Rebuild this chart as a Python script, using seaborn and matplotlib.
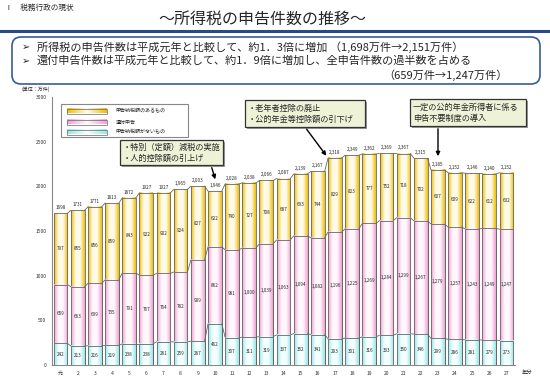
import numpy as np
import pandas as pd
import matplotlib
matplotlib.use('Agg')
import matplotlib.pyplot as plt
import seaborn as sns
from matplotlib.colors import LinearSegmentedColormap
from matplotlib.patches import FancyBboxPatch, Rectangle

# data (unit: 10,000 returns)
years = ['元', '2', '3', '4', '5', '6', '7', '8', '9', '10', '11', '12', '13', '14',
         '15', '16', '17', '18', '19', '20', '21', '22', '23', '24', '25', '26', '27']
no_tax = [242, 213, 216, 219, 238, 238, 261, 259, 267, 462, 307, 311, 319, 337,
          352, 341, 293, 301, 316, 333, 350, 346, 299, 286, 281, 279, 273]
refund = [659, 663, 699, 735, 791, 767, 764, 782, 909, 862, 981, 1000, 1039, 1063,
          1094, 1082, 1196, 1225, 1269, 1284, 1299, 1267, 1279, 1257, 1243, 1249, 1247]
tax_due = [797, 855, 856, 859, 843, 922, 902, 924, 827, 622, 740, 727, 708, 687,
           693, 744, 829, 823, 777, 752, 718, 702, 607, 609, 622, 612, 632]
legend_labels = ['申告納税額のあるもの', '還付申告', '申告納税額がないもの']

sns.set_style('white')
plt.rcParams['font.family'] = ['Noto Sans CJK JP', 'DejaVu Sans']

df = pd.DataFrame({'year': years, 'no_tax': no_tax, 'refund': refund, 'tax_due': tax_due})
df['lvl1'] = df['no_tax']
df['lvl2'] = df['no_tax'] + df['refund']
df['lvl3'] = df['lvl2'] + df['tax_due']

fig = plt.figure(figsize=(5.5, 3.77), dpi=100)
ax = fig.add_axes([52 / 550, 12 / 377, 463 / 550, 268 / 377])

layers = [('lvl3', '#efbe00', '#fffbea'),
          ('lvl2', '#f2a0d4', '#fff8fc'),
          ('lvl1', '#96e6ea', '#f6ffff')]
grad = np.linspace(0, 1, 64).reshape(1, -1)
for k, (col, edge, mid) in enumerate(layers):
    n0 = len(ax.patches)
    sns.barplot(data=df, x='year', y=col, ax=ax, color=edge, width=0.8,
                edgecolor='#666666', linewidth=0.6, saturation=1)
    cmap = LinearSegmentedColormap.from_list('g' + col, [edge, mid, mid, edge])
    for p in ax.patches[n0:]:
        x0, y0, w, h = p.get_x(), p.get_y(), p.get_width(), p.get_height()
        p.set_facecolor('none')
        p.set_zorder(2.5 + k)
        ax.imshow(grad, extent=[x0, x0 + w, y0, y0 + h], cmap=cmap, aspect='auto',
                  interpolation='bicubic', zorder=2 + k)

# connector lines between bars
for lvl in ['lvl1', 'lvl2', 'lvl3']:
    v = df[lvl].values
    for i in range(len(v) - 1):
        ax.plot([i + 0.4, i + 0.6], [v[i], v[i + 1]], color='#666666', lw=0.6, zorder=6)

# value labels
for i in range(len(years)):
    ax.text(i, df['lvl1'][i] / 2, f'{no_tax[i]:,}', ha='center', va='center', fontsize=3.3, zorder=7)
    ax.text(i, df['lvl1'][i] + refund[i] / 2, f'{refund[i]:,}', ha='center', va='center', fontsize=3.3, zorder=7)
    ax.text(i, df['lvl2'][i] + tax_due[i] / 2, f'{tax_due[i]:,}', ha='center', va='center', fontsize=3.3, zorder=7)
    t = df['lvl3'][i]
    ax.text(i, t + 35, f'{t:,}' if i >= 7 else str(t), ha='center', va='bottom', fontsize=3.3, zorder=7)

ax.set_xlim(-0.5, 26.5)
ax.set_ylim(0, 3000)
ax.set_yticks(range(0, 3001, 500))
ax.set_xlabel('')
ax.set_ylabel('')
ax.tick_params(axis='both', labelsize=3.6, length=2, width=0.5, pad=2, colors='#333333')
for s in ['top', 'right']:
    ax.spines[s].set_visible(False)
for s in ['left', 'bottom']:
    ax.spines[s].set_color('#888888')
    ax.spines[s].set_linewidth(0.8)

# overlay in pixel coordinates for header, legend and notes
ov = fig.add_axes([0, 0, 1, 1])
ov.set_xlim(0, 550)
ov.set_ylim(377, 0)
ov.axis('off')
ov.patch.set_alpha(0)

ov.text(5, 8, 'Ⅰ　税務行政の現状', fontsize=5.5, ha='left', va='center')
ov.text(262, 19, '～所得税の申告件数の推移～', fontsize=11.5, ha='center', va='center')
ov.plot([0, 550], [31, 31], color='#2a4a86', lw=2.2)
ov.add_patch(FancyBboxPatch((12, 37), 528, 47, boxstyle='round,pad=0,rounding_size=9',
                            fc='white', ec='#3a5a96', lw=1.2))
ov.text(22, 47, '➢', fontsize=7, ha='left', va='center')
ov.text(37, 47, '所得税の申告件数は平成元年と比較して、約1．3倍に増加 （1,698万件→2,151万件）',
        fontsize=8, ha='left', va='center')
ov.text(22, 61, '➢', fontsize=7, ha='left', va='center')
ov.text(37, 61, '還付申告件数は平成元年と比較して、約1．9倍に増加し、全申告件数の過半数を占める',
        fontsize=8, ha='left', va='center')
ov.text(508, 75, '（659万件→1,247万件）', fontsize=8, ha='right', va='center')

ov.text(22, 89, '(単位：万件)', fontsize=3.6, ha='left', va='center')
ov.text(522, 372, '年分', fontsize=3.8, ha='left', va='center')

# legend
ov.add_patch(Rectangle((61, 104), 127, 33, fc='white', ec='#888888', lw=0.8, zorder=10))
sw_y = [111, 122, 132]
for (col, edge, mid), lab, yy in zip(layers, legend_labels, sw_y):
    cm = LinearSegmentedColormap.from_list('s' + col, [edge, mid, edge])
    ov.imshow(grad, extent=[67, 107, yy + 2.5, yy - 2.5], cmap=cm, aspect='auto', zorder=11)
    ov.add_patch(Rectangle((67, yy - 2.5), 40, 5, fc='none', ec='#666666', lw=0.5, zorder=12))
    ov.text(116, yy, lab, fontsize=3.6, ha='left', va='center', zorder=12)

# note boxes with arrows
notes = [((120, 140, 103, 25), '・特別（定額）減税の実施\n・人的控除額の引上げ', (211, 165), (216, 182)),
         ((245, 100, 120, 27), '・老年者控除の廃止\n・公的年金等控除額の引下げ', (305, 127), (328, 158)),
         ((410, 99, 116, 27), '一定の公的年金所得者に係る\n申告不要制度の導入', (438, 126), (438, 159))]
for (x, y, w, h), txt, tail, tip in notes:
    ov.add_patch(Rectangle((x + 2, y + 2), w, h, fc='#9a9a9a', ec='none', zorder=13))
    ov.add_patch(Rectangle((x, y), w, h, fc='#eef3d8', ec='#333333', lw=0.9, zorder=14))
    ov.text(x + 3, y + h / 2, txt, fontsize=5.9, ha='left', va='center', linespacing=1.3, zorder=15)
    ov.annotate('', xy=tip, xytext=tail, zorder=15,
                arrowprops=dict(arrowstyle='-|>', color='black', lw=1, mutation_scale=6))

fig.savefig('out.png', dpi=100)
